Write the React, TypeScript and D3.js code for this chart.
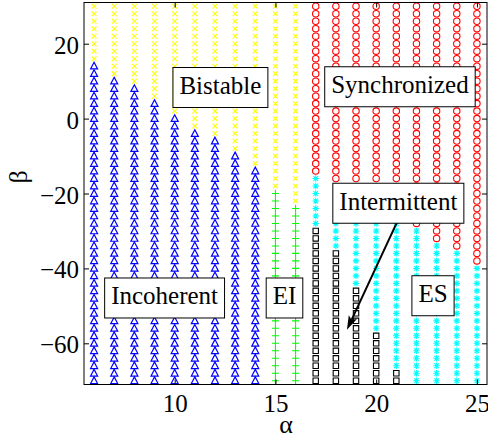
import React, { useEffect, useRef } from "react";
import * as d3 from "d3";

// parameter sweep
const alphas = [6, 7, 8, 9, 10, 11, 12, 13, 14, 15, 16, 17, 18, 19, 20, 21, 22, 23, 24, 25];
const betas = [
  -70, -68, -66, -64, -62, -60, -58, -56, -54, -52, -50, -48, -46, -44, -42, -40, -38, -36, -34, -32,
  -30, -28, -26, -24, -22, -20, -18, -16, -14, -12, -10, -8, -6, -4, -2, 0, 2, 4, 6, 8, 10, 12, 14, 16,
  18, 20, 22, 24, 26, 28, 30,
];

// highest beta of the lower regime in each column (null = none)
const lowerTop = [14, 10, 8, 4, 0, -4, -6, -10, -14, -20, -24, -30, -36, -46, -58, -68, null, null, null, null];
// lowest beta of the upper regime in each column
const upperBottom = [16, 12, 10, 6, 2, -2, -4, -8, -12, -18, -22, -14, -16, -16, -16, -16, -28, -32, -34, -38];
const lowerState = [
  "Incoherent", "Incoherent", "Incoherent", "Incoherent", "Incoherent", "Incoherent", "Incoherent",
  "Incoherent", "Incoherent", "EI", "EI", "Intermittent", "Intermittent", "Intermittent", "Intermittent",
  "Intermittent", "Intermittent", "Intermittent", "Intermittent", "Intermittent",
];
const upperState = [
  "Bistable", "Bistable", "Bistable", "Bistable", "Bistable", "Bistable", "Bistable", "Bistable",
  "Bistable", "Bistable", "Bistable", "Synchronized", "Synchronized", "Synchronized", "Synchronized",
  "Synchronized", "Synchronized", "Synchronized", "Synchronized", "Synchronized",
];
const middleState = "ES";

const xTicks = [10, 15, 20, 25];
const yTicks = [-60, -40, -20, 0, 20];

const labelText = ["Bistable", "Synchronized", "Intermittent", "Incoherent", "EI", "ES"];
const labelAlpha = [12.27, 21.18, 21.1, 9.5, 15.45, 22.82];
const labelBeta = [8.3, 8.5, -22.6, -47.9, -47.9, -47.3];

const arrowFrom = [21.03, -27.7];
const arrowTo = [18.55, -56.4];

const FONT = "'Liberation Serif', 'Times New Roman', serif";

const markerPath: Record<string, string> = {
  Incoherent: "M0,-3.9L3.5,2.8L-3.5,2.8Z",
  Bistable: "M-2.4,-2.4L2.4,2.4M-2.4,2.4L2.4,-2.4",
  EI: "M-3.5,0H3.5M0,-3.75V3.75",
  ES: "M-3.2,0H3.2M0,-3.2V3.2M-2.3,-2.3L2.3,2.3M-2.3,2.3L2.3,-2.3",
  Intermittent: "M-2.7,-2.7H2.7V2.7H-2.7Z",
};
const markerColor: Record<string, string> = {
  Incoherent: "#0000ff",
  Bistable: "#ffff00",
  EI: "#00ff00",
  ES: "#00ffff",
  Intermittent: "#000000",
  Synchronized: "#ff0000",
};

export default function App() {
  const ref = useRef<SVGSVGElement>(null);

  useEffect(() => {
    const svg = d3.select(ref.current);
    svg.selectAll("*").remove();

    const x = d3.scaleLinear().domain([5.5, 25.5]).range([84, 487]);
    const y = d3.scaleLinear().domain([-71, 31]).range([384.5, 2.5]);

    const points: { a: number; b: number; s: string }[] = [];
    alphas.forEach((a, i) => {
      betas.forEach((b) => {
        let s = middleState;
        if (lowerTop[i] !== null && b <= (lowerTop[i] as number)) s = lowerState[i];
        else if (b >= upperBottom[i]) s = upperState[i];
        points.push({ a, b, s });
      });
    });

    const g = svg.append("g");
    const order = ["Bistable", "Incoherent", "EI", "Synchronized", "ES", "Intermittent"];
    order.forEach((st) => {
      const pts = points.filter((p) => p.s === st);
      if (st === "Synchronized") {
        g.selectAll(null).data(pts).join("circle")
          .attr("cx", (d) => x(d.a)).attr("cy", (d) => y(d.b)).attr("r", 3.2)
          .attr("fill", "none").attr("stroke", markerColor[st]).attr("stroke-width", 1.1);
      } else {
        g.selectAll(null).data(pts).join("path")
          .attr("d", markerPath[st])
          .attr("transform", (d) => `translate(${x(d.a)},${y(d.b)})`)
          .attr("fill", "none").attr("stroke", markerColor[st])
          .attr("stroke-width", st === "Incoherent" ? 1.2 : 1.1);
      }
    });

    // axes box and ticks
    svg.append("rect").attr("x", 84).attr("y", 2.5).attr("width", 403).attr("height", 382)
      .attr("fill", "none").attr("stroke", "black").attr("stroke-width", 1);

    const styleAxis = (sel: any) => {
      sel.select(".domain").remove();
      sel.selectAll("line").attr("stroke", "black");
      sel.selectAll("text").attr("font-family", FONT).attr("font-size", 25).attr("fill", "black");
    };

    svg.append("g").attr("transform", "translate(0,384.5)")
      .call(d3.axisBottom(x).tickValues(xTicks).tickSize(-5).tickPadding(9.5)).call(styleAxis);
    svg.append("g").attr("transform", "translate(0,2.5)")
      .call(d3.axisTop(x).tickValues(xTicks).tickSize(-5).tickFormat(() => "")).call(styleAxis);
    const yl = svg.append("g").attr("transform", "translate(84,0)")
      .call(d3.axisLeft(y).tickValues(yTicks).tickSize(-5).tickPadding(5)).call(styleAxis);
    yl.selectAll("text").attr("dy", "0.38em");
    svg.append("g").attr("transform", "translate(487,0)")
      .call(d3.axisRight(y).tickValues(yTicks).tickSize(-5).tickFormat(() => "")).call(styleAxis);

    svg.append("text").attr("x", 286).attr("y", 433).attr("text-anchor", "middle")
      .attr("font-family", FONT).attr("font-size", 26).text("α");
    svg.append("text").attr("transform", "translate(27,177) rotate(-90)").attr("text-anchor", "middle")
      .attr("font-family", FONT).attr("font-size", 26).text("β");

    // arrow
    const [x1, y1] = [x(arrowFrom[0]), y(arrowFrom[1])];
    const [x2, y2] = [x(arrowTo[0]), y(arrowTo[1])];
    const len = Math.hypot(x2 - x1, y2 - y1);
    const ux = (x2 - x1) / len, uy = (y2 - y1) / len;
    const px = -uy, py = ux;
    const hl = 14, hw = 4.5, notch = 3;
    svg.append("line").attr("x1", x1).attr("y1", y1)
      .attr("x2", x2 - ux * (hl - notch)).attr("y2", y2 - uy * (hl - notch))
      .attr("stroke", "black").attr("stroke-width", 2);
    const head = [
      [x2, y2],
      [x2 - ux * hl + px * hw, y2 - uy * hl + py * hw],
      [x2 - ux * (hl - notch), y2 - uy * (hl - notch)],
      [x2 - ux * hl - px * hw, y2 - uy * hl - py * hw],
    ];
    svg.append("path").attr("d", "M" + head.map((p) => p.join(",")).join("L") + "Z").attr("fill", "black");

    // text boxes
    labelText.forEach((t, i) => {
      const cx = x(labelAlpha[i]);
      const cy = y(labelBeta[i]);
      const lg = svg.append("g");
      const rect = lg.append("rect");
      const txt = lg.append("text").attr("x", cx).attr("y", cy + 6.5).attr("text-anchor", "middle")
        .attr("font-family", FONT).attr("font-size", 25).attr("fill", "black").text(t);
      const w = (txt.node() as SVGTextElement).getComputedTextLength();
      rect.attr("x", cx - w / 2 - 6.5).attr("y", cy - 20).attr("width", w + 13).attr("height", 40)
        .attr("fill", "white").attr("stroke", "black").attr("stroke-width", 1);
    });
  }, []);

  return (
    <div style={{ position: "absolute", left: 0, top: 0 }}>
      <svg ref={ref} width={488} height={443} style={{ display: "block", background: "white" }} />
    </div>
  );
}
